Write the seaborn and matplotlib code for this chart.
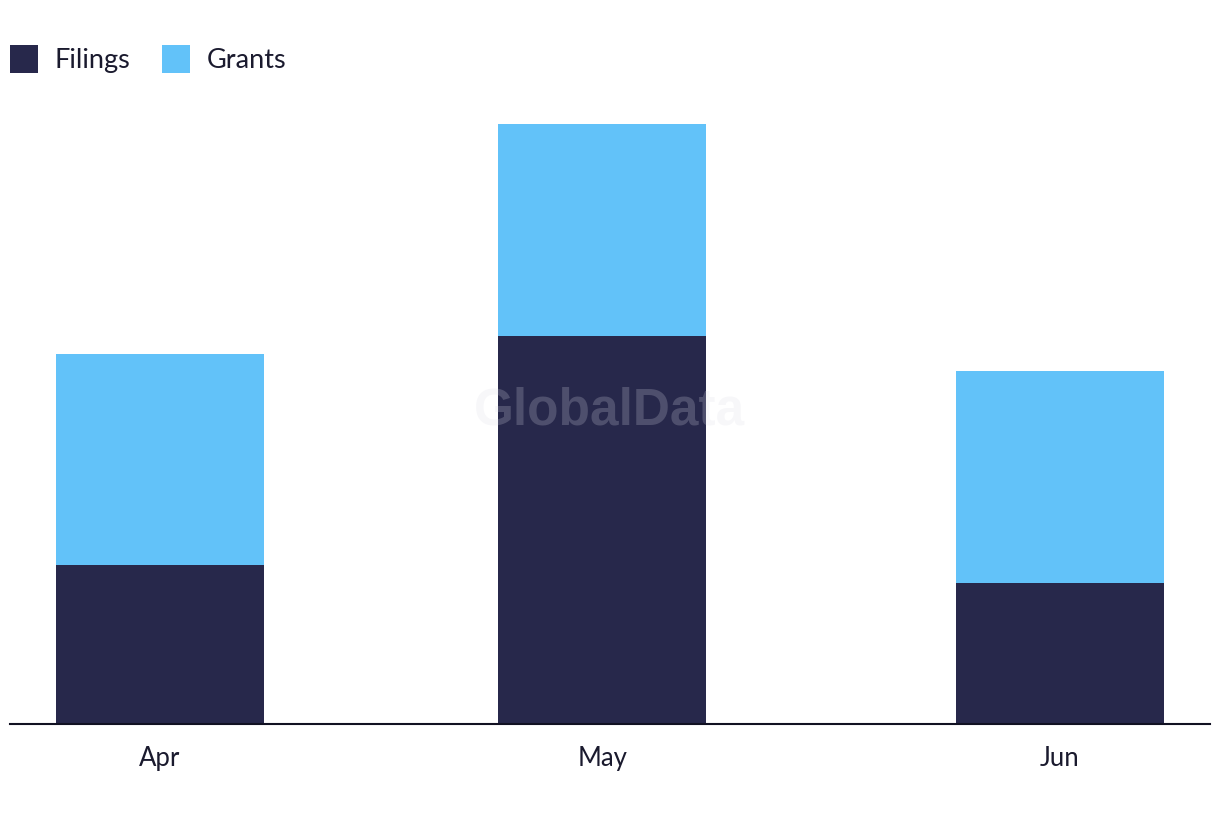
import numpy as np
import pandas as pd
import matplotlib
matplotlib.use("Agg")
import matplotlib.pyplot as plt
import seaborn as sns

months = ["Apr", "May", "Jun"]
month_dates = ["2024-04-01", "2024-05-01", "2024-06-01"]
filings = [9, 22, 8]
grants = [12, 12, 12]

dark = "#27284b"
light = "#62c2f9"

sns.set_theme(style="white")
plt.rcParams["font.family"] = ["Lato", "DejaVu Sans"]

dates = pd.to_datetime(month_dates)
days = (dates - dates[0]).days.astype(float)
df = pd.DataFrame({
    "month": months,
    "day": days,
    "filings": filings,
    "grants": grants,
})
df["total"] = df["filings"] + df["grants"]

fig = plt.figure(figsize=(12.2, 8.22), dpi=100)
ax = fig.add_axes([10 / 1220, 98 / 822, 1200 / 1220, (723 - 88) / 822])

sns.barplot(data=df, x="day", y="total", native_scale=True, width=0.47,
            color=light, saturation=1, ax=ax, label="Grants", linewidth=0)
sns.barplot(data=df, x="day", y="filings", native_scale=True, width=0.47,
            color=dark, saturation=1, ax=ax, label="Filings", linewidth=0)

handles, labels = ax.get_legend_handles_labels()
if ax.get_legend() is not None:
    ax.get_legend().remove()

ax.set_xlim(-10.17, 71.2)
ax.set_ylim(0, 36)
ax.set_xticks(df["day"])
ax.set_xticklabels(df["month"], fontsize=18.5, color="#1a1a2e")
ax.set_yticks([])
ax.set_xlabel("")
ax.set_ylabel("")
for s in ["top", "right", "left"]:
    ax.spines[s].set_visible(False)
ax.spines["bottom"].set_color("#111122")
ax.spines["bottom"].set_linewidth(1.5)
ax.tick_params(axis="x", length=0, pad=16)

order = [labels.index("Filings"), labels.index("Grants")]
leg = fig.legend([handles[i] for i in order], [labels[i] for i in order],
                 loc="upper left", bbox_to_anchor=(10 / 1220, 1 - 45 / 822), ncol=2,
                 frameon=False, fontsize=19.5, handlelength=1.04, handleheight=1.2,
                 handletextpad=0.62, columnspacing=1.16, borderaxespad=0,
                 borderpad=0)
for t in leg.get_texts():
    t.set_color("#1a1a2e")

fig.text(610 / 1220, 1 - 411 / 822, "GlobalData", ha="center", va="center",
         fontsize=37, fontweight="bold", family=["Liberation Sans", "DejaVu Sans"],
         color=(0.86, 0.86, 0.9), alpha=0.22, zorder=10)

fig.savefig("out.png", dpi=100)
